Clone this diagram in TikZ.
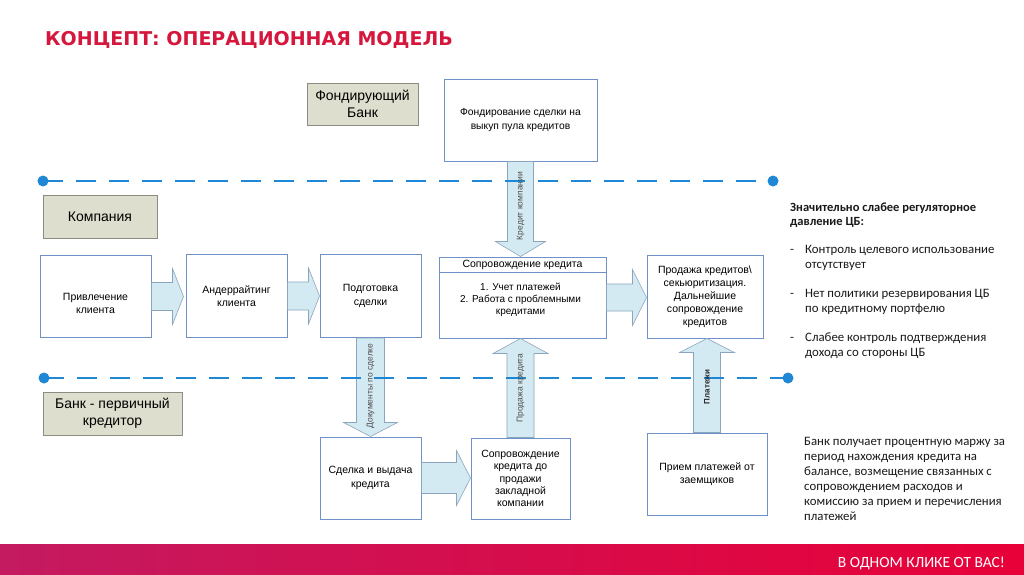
\documentclass[tikz,border=0pt]{standalone}
\usepackage{fontspec}
\setmainfont{Liberation Sans}
\newfontfamily\titlefont{DejaVu Sans}
\newfontfamily\calfont{Carlito}
\usetikzlibrary{calc}
\definecolor{titlered}{RGB}{214,23,61}
\definecolor{boxblue}{RGB}{110,145,200}
\definecolor{lblfill}{RGB}{221,222,205}
\definecolor{lblborder}{RGB}{140,140,130}
\definecolor{arrowfill}{RGB}{212,234,242}
\definecolor{arrowborder}{RGB}{140,165,190}
\definecolor{swimblue}{RGB}{30,136,214}
\definecolor{foot1}{RGB}{196,26,96}
\definecolor{foot2}{RGB}{232,0,56}
\definecolor{bodytext}{RGB}{25,25,25}
\newcommand\hblock[5]{\draw[barrow] ($#1+(0,-#4)$) -- ($#2+(-#3,-#4)$) -- ($#2+(-#3,-#5)$) -- #2 -- ($#2+(-#3,#5)$) -- ($#2+(-#3,#4)$) -- ($#1+(0,#4)$) -- cycle;}
\newcommand\vdblock[5]{\draw[barrow] ($#1+(-#4,0)$) -- ($#2+(-#4,-#3)$) -- ($#2+(-#5,-#3)$) -- #2 -- ($#2+(#5,-#3)$) -- ($#2+(#4,-#3)$) -- ($#1+(#4,0)$) -- cycle;}
\newcommand\vublock[5]{\draw[barrow] ($#1+(-#4,0)$) -- ($#2+(-#4,#3)$) -- ($#2+(-#5,#3)$) -- #2 -- ($#2+(#5,#3)$) -- ($#2+(#4,#3)$) -- ($#1+(#4,0)$) -- cycle;}
\begin{document}
\begin{tikzpicture}[x=1pt,y=-1pt,
  bluebox/.style={draw=boxblue, line width=1pt, fill=white, inner sep=2pt, align=center, text=black, font=\fontsize{10.5}{13.5}\selectfont},
  boxtext/.style={inner sep=0pt, align=center, text=black, font=\fontsize{10.5}{13.5}\selectfont},
  labelbox/.style={draw=lblborder, fill=lblfill, line width=0.9pt, inner sep=2pt, align=center, text=black, font=\fontsize{14}{17}\selectfont},
  barrow/.style={draw=arrowborder, fill=arrowfill, line width=0.6pt},
  swim/.style={draw=swimblue, line width=2.8pt, dash pattern=on 20pt off 13pt},
  swimdot/.style={fill=swimblue},
  vlabel/.style={rotate=90, inner sep=0pt, text=black!70, font=\fontsize{8.5}{10}\selectfont},
  sidetext/.style={anchor=base west, inner sep=0pt, text=bodytext, font=\calfont\fontsize{12.8}{15}\selectfont},
  sidebold/.style={sidetext, font=\calfont\bfseries\fontsize{12.5}{15}\selectfont}
]
\useasboundingbox (0,0) rectangle (1024,574);
\fill[white] (0,0) rectangle (1024,574);

% title
\node[anchor=base west, inner sep=0pt, text=titlered, font=\titlefont\bfseries\fontsize{19}{22}\selectfont] (title) at (45,45) {КОНЦЕПТ: ОПЕРАЦИОННАЯ МОДЕЛЬ};

% lane labels
\node[labelbox, minimum width=111pt, minimum height=42pt] (fb) at (362.5,104) {Фондирующий\\Банк};
\node[labelbox, minimum width=114pt, minimum height=43pt] (co) at (100,216.5) {Компания};
\node[labelbox, minimum width=139pt, minimum height=43pt] (bp) at (112.5,413.5) {Банк - первичный\\кредитор};

% process boxes
\node[bluebox, minimum width=153pt, minimum height=82pt, font=\fontsize{10.3}{14}\selectfont] (fd) at (520.5,120) {Фондирование сделки на\\выкуп пула кредитов};
\node[bluebox, minimum width=111pt, minimum height=82pt] (pr) at (95.5,296.5) {};
\node[boxtext] (prt) at ($(pr.center)+(0,7)$) {Привлечение\\клиента};
\node[bluebox, minimum width=101pt, minimum height=83pt] (an) at (236.5,296) {Андеррайтинг\\клиента};
\node[bluebox, minimum width=101pt, minimum height=83pt] (pd) at (370.5,296) {Подготовка\\сделки};
\node[bluebox, minimum width=167pt, minimum height=81pt] (sk) at (522.5,297.5) {};
\draw[boxblue, line width=0.8pt] ($(sk.north west)+(0,16)$) -- ($(sk.north east)+(0,16)$);
\node[boxtext] (skh) at ($(sk.north)+(0,8)$) {Сопровождение кредита};
\node[boxtext, font=\fontsize{10}{12}\selectfont] (skb) at ($(sk.center)+(-2,2)$) {1. Учет платежей\\2. Работа с проблемными\\кредитами};
\node[bluebox, minimum width=116pt, minimum height=83pt, font=\fontsize{10.5}{13}\selectfont] (ps) at (705,296.5) {Продажа кредитов\textbackslash\\секьюритизация.\\Дальнейшие\\сопровождение\\кредитов};
\node[bluebox, minimum width=101pt, minimum height=82pt] (sd) at (370.5,478) {Сделка и выдача\\кредита};
\node[bluebox, minimum width=99pt, minimum height=81pt, font=\fontsize{10.5}{12.2}\selectfont] (sp) at (520.5,478.5) {Сопровождение\\кредита до\\продажи\\закладной\\компании};
\node[bluebox, minimum width=120pt, minimum height=82pt] (pp) at (707,474) {Прием платежей от\\заемщиков};

% block arrows
\coordinate (t1) at ($(an.west |- pr.east)+(-2,0)$);
\hblock{(pr.east)}{(t1)}{11}{14}{28}
\coordinate (t2) at (pd.west |- an.east);
\hblock{(an.east)}{(t2)}{11}{14}{28}
\coordinate (t3) at (ps.west |- sk.east);
\hblock{(sk.east)}{(t3)}{14}{13.5}{28}
\coordinate (t8) at (sp.west |- sd.east);
\hblock{(sd.east)}{(t8)}{14}{15.5}{27.5}
\coordinate (t4) at (fd.south |- sk.north);
\vdblock{(fd.south)}{(t4)}{15}{13}{25}
\coordinate (t5) at (pd.south |- sd.north);
\vdblock{(pd.south)}{(t5)}{14}{14}{27}
\coordinate (t6) at (sp.north |- sk.south);
\vublock{(sp.north)}{(t6)}{15}{13.5}{27.5}
\coordinate (t7) at (pp.north |- ps.south);
\vublock{(pp.north)}{(t7)}{14}{13.5}{27.5}

% lane dividers
\coordinate (l1a) at (43,181);
\coordinate (l1b) at (773,181);
\coordinate (l2a) at (44,378);
\coordinate (l2b) at (788,378);
\draw[swim] (l1a) -- (l1b);
\draw[swim] (l2a) -- (l2b);
\fill[swimdot] (l1a) circle (5.5pt);
\fill[swimdot] (l1b) circle (5.5pt);
\fill[swimdot] (l2a) circle (5.5pt);
\fill[swimdot] (l2b) circle (5.5pt);

% arrow labels
\node[vlabel] (lk) at (520.5,206) {Кредит компании};
\node[vlabel] (ld) at (370.5,386) {Документы по сделке};
\node[vlabel] (lp) at (520.5,388) {Продажа кредита};
\node[vlabel, text=black!85, font=\bfseries\fontsize{8}{10}\selectfont] (lpl) at (707,387) {Платежи};

% right text
\node[sidebold] (r1) at (790,211) {Значительно слабее регуляторное};
\node[sidebold] (r2) at (790,225.5) {давление ЦБ:};
\node[sidetext] (d1) at (790,253.5) {-};
\node[sidetext] (r3) at (805,253.5) {Контроль целевого использование};
\node[sidetext] (r4) at (805,268) {отсутствует};
\node[sidetext] (d2) at (790,297.5) {-};
\node[sidetext] (r5) at (805,297.5) {Нет политики резервирования ЦБ};
\node[sidetext] (r6) at (805,312) {по кредитному портфелю};
\node[sidetext] (d3) at (790,341.5) {-};
\node[sidetext] (r7) at (805,341.5) {Слабее контроль подтверждения};
\node[sidetext] (r8) at (805,356) {дохода со стороны ЦБ};

\node[sidetext] (b1) at (804,445) {Банк получает процентную маржу за};
\node[sidetext] (b2) at (804,460) {период нахождения кредита на};
\node[sidetext] (b3) at (804,475) {балансе, возмещение связанных с};
\node[sidetext] (b4) at (804,490) {сопровождением расходов и};
\node[sidetext] (b5) at (804,505) {комиссию за прием и перечисления};
\node[sidetext] (b6) at (804,520) {платежей};

% footer
\shade[left color=foot1, right color=foot2] (0,544) rectangle (1024,574);
\node[anchor=base east, inner sep=0pt, text=white, font=\calfont\fontsize{15.5}{18}\selectfont] (foot) at (1005,567) {В ОДНОМ КЛИКЕ ОТ ВАС!};
\end{tikzpicture}
\end{document}
